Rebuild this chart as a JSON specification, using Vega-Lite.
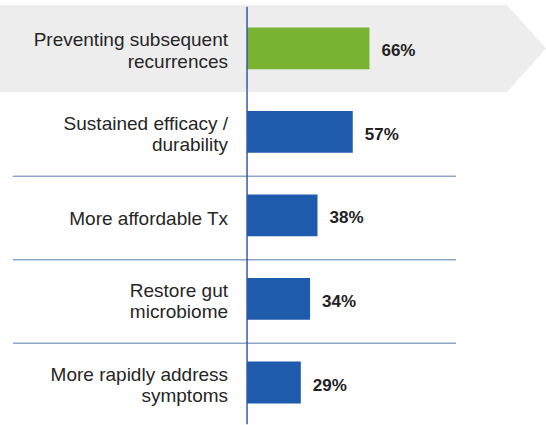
{
  "$schema": "https://vega.github.io/schema/vega-lite/v6.json",
  "width": 546,
  "height": 425,
  "autosize": {"type": "none"},
  "padding": 0,
  "background": "white",
  "config": {"view": {"stroke": null}},
  "data": {
    "values": [
      {"item": "Preventing subsequent\nrecurrences", "pct": 66, "label": "66%", "group": "top"},
      {"item": "Sustained efficacy /\ndurability", "pct": 57, "label": "57%", "group": "other"},
      {"item": "More affordable Tx", "pct": 38, "label": "38%", "group": "other"},
      {"item": "Restore gut\nmicrobiome", "pct": 34, "label": "34%", "group": "other"},
      {"item": "More rapidly address\nsymptoms", "pct": 29, "label": "29%", "group": "other"}
    ]
  },
  "layer": [
    {
      "transform": [{"filter": "datum.group == 'top'"}],
      "mark": {
        "type": "point",
        "shape": "M -5.7 -1 L 5.977 -1 L 6.874 0 L 5.977 1 L -5.7 1 Z",
        "size": 7569,
        "filled": true,
        "color": "#EDEDED",
        "opacity": 1,
        "strokeWidth": 0
      },
      "encoding": {
        "x": {"datum": 0, "type": "quantitative", "scale": {"domain": [-133.2, 161.2], "nice": false, "zero": false}, "axis": null},
        "y": {"field": "item", "type": "nominal", "sort": null, "axis": null, "scale": {"domain": ["Preventing subsequent\nrecurrences", "Sustained efficacy /\ndurability", "More affordable Tx", "Restore gut\nmicrobiome", "More rapidly address\nsymptoms"], "paddingInner": 0, "paddingOuter": 0.0449, "align": 0.9}}
      }
    },
    {
      "transform": [{"filter": "datum.pct < 50"}],
      "mark": {"type": "rule", "color": "#8CA5C8", "strokeWidth": 1.5, "yOffset": 2.5},
      "encoding": {
        "x": {"datum": -126.2, "type": "quantitative"},
        "x2": {"datum": 112.7},
        "y": {"field": "item", "type": "nominal", "sort": null, "bandPosition": 0}
      }
    },
    {
      "mark": {"type": "bar", "height": {"band": 0.5}},
      "encoding": {
        "x": {"field": "pct", "type": "quantitative"},
        "x2": {"datum": 0},
        "y": {"field": "item", "type": "nominal", "sort": null},
        "color": {"field": "group", "type": "nominal", "legend": null, "scale": {"domain": ["top", "other"], "range": ["#78B431", "#1F5BAD"]}}
      }
    },
    {
      "mark": {"type": "bar", "height": {"band": 1}, "color": "#35589A", "opacity": 1},
      "encoding": {
        "x": {"datum": -0.4, "type": "quantitative"},
        "x2": {"datum": 0.4},
        "y": {"field": "item", "type": "nominal", "sort": null}
      }
    },
    {
      "mark": {"type": "text", "align": "left", "baseline": "middle", "dx": 12, "dy": 3, "font": "Liberation Sans", "fontSize": 17, "fontWeight": "bold", "color": "#222222"},
      "encoding": {
        "x": {"field": "pct", "type": "quantitative"},
        "y": {"field": "item", "type": "nominal", "sort": null},
        "text": {"field": "label"}
      }
    },
    {
      "transform": [{"filter": "indexof(datum.item, '\\n') >= 0"}],
      "mark": {"type": "text", "align": "right", "baseline": "middle", "dx": -19, "dy": -8, "font": "Liberation Sans", "fontSize": 19, "lineBreak": "\n", "lineHeight": 21.5, "color": "#262626"},
      "encoding": {
        "x": {"datum": 0, "type": "quantitative"},
        "y": {"field": "item", "type": "nominal", "sort": null},
        "text": {"field": "item"}
      }
    },
    {
      "transform": [{"filter": "indexof(datum.item, '\\n') < 0"}],
      "mark": {"type": "text", "align": "right", "baseline": "middle", "dx": -19, "dy": 4, "font": "Liberation Sans", "fontSize": 19, "color": "#262626"},
      "encoding": {
        "x": {"datum": 0, "type": "quantitative"},
        "y": {"field": "item", "type": "nominal", "sort": null},
        "text": {"field": "item"}
      }
    }
  ]
}
